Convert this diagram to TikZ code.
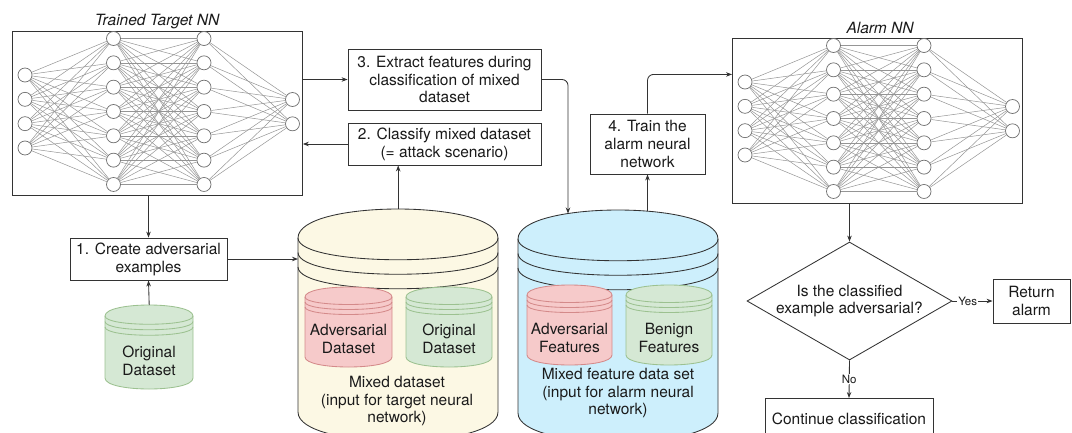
\documentclass[tikz,border=0pt]{standalone}
\usepackage{fontspec}
\setmainfont{TeX Gyre Heros}
\usetikzlibrary{arrows.meta,shapes.geometric}

\definecolor{ink}{HTML}{333333}
\definecolor{txt}{HTML}{1A1A1A}
\definecolor{wirec}{HTML}{959595}
\definecolor{cellline}{HTML}{6E6E6E}
\definecolor{mixfill}{HTML}{FCF8E4}
\definecolor{featfill}{HTML}{CDEFFC}
\definecolor{advfill}{HTML}{F6CACA}
\definecolor{advline}{HTML}{D48A8A}
\definecolor{benfill}{HTML}{D5E8D4}
\definecolor{benline}{HTML}{9CC190}

\tikzset{
  stepbox/.style={draw=ink, line width=0.85pt, fill=white, align=center, inner sep=2pt,
    text=txt, font=\fontsize{15.5}{17.8}\selectfont},
  frame/.style={draw=ink, line width=0.85pt, fill=white, inner sep=0pt},
  neuron/.style={circle, draw=cellline, line width=0.7pt, fill=white, minimum size=14pt, inner sep=0pt},
  wire/.style={draw=wirec, line width=0.5pt},
  arr/.style={draw=ink, line width=0.85pt, -{Stealth[length=6pt,width=4.5pt]}},
  lbl/.style={text=txt, align=center, font=\fontsize{15.5}{17.8}\selectfont, inner sep=0pt},
  title/.style={text=txt, font=\itshape\fontsize{15.5}{17.8}\selectfont, inner sep=0pt},
  small/.style={text=txt, font=\fontsize{11.5}{13}\selectfont, fill=white, inner sep=1pt},
}

% fully connected 4-7-7-2 network; #1 name prefix, (#2,#3) top-left corner of its frame
\newcommand\neuralnet[3]{%
  \foreach \i in {1,...,4} \node[neuron] (#1-a\i) at ({#2+13},{#3+44+24.33*(\i-1)}) {};
  \foreach \i in {1,...,7} {
    \node[neuron] (#1-b\i) at ({#2+101.5},{#3+7.5+24.33*(\i-1)}) {};
    \node[neuron] (#1-c\i) at ({#2+192},{#3+7.5+24.33*(\i-1)}) {};
  }
  \foreach \i in {1,2} \node[neuron] (#1-d\i) at ({#2+280.5},{#3+68.5+24.33*(\i-1)}) {};
  \foreach \i in {1,...,4} \foreach \j in {1,...,7} \draw[wire] (#1-a\i) -- (#1-b\j);
  \foreach \i in {1,...,7} \foreach \j in {1,...,7} \draw[wire] (#1-b\i) -- (#1-c\j);
  \foreach \i in {1,...,7} \foreach \j in {1,2} \draw[wire] (#1-c\i) -- (#1-d\j);
}

% data store cylinder: #1 name, (#2,#3) top-left, #4 width, #5 height, #6 rim depth, #7 fill, #8 stroke
\newcommand\dstore[8]{%
  \node[minimum width=#4pt, minimum height=#5pt, inner sep=0pt, anchor=north west] (#1) at (#2,#3) {};
  \path[fill=#7, draw=#8, line width=0.85pt]
    (#2,{#3+#6}) .. controls (#2,{#3-#6/3}) and ({#2+#4},{#3-#6/3}) .. ({#2+#4},{#3+#6})
    -- ({#2+#4},{#3+#5-#6}) .. controls ({#2+#4},{#3+#5+#6/3}) and (#2,{#3+#5+#6/3}) .. (#2,{#3+#5-#6})
    -- cycle;
  \foreach \k in {0,0.5,1}
    \draw[draw=#8, line width=0.85pt] (#2,{#3+#6+\k*#6}) .. controls (#2,{#3+2*#6+\k*#6})
      and ({#2+#4},{#3+2*#6+\k*#6}) .. ({#2+#4},{#3+#6+\k*#6});
}

\begin{document}
\begin{tikzpicture}[x=1pt, y=-1pt]
\useasboundingbox (0,0) rectangle (1072,432);
\clip (0,0) rectangle (1072,432);

% target network
\node[frame, minimum width=290pt, minimum height=164pt, anchor=north west] (tnn) at (12,31) {};
\node[title] (ttitle) at (157,22) {Trained Target NN};
\neuralnet{t}{12}{31}

% alarm network
\node[frame, minimum width=290pt, minimum height=165pt, anchor=north west] (alarm) at (732,38) {};
\node[title] (atitle) at (880,28) {Alarm NN};
\neuralnet{a}{732}{38}

% process steps
\node[stepbox, minimum width=157pt, minimum height=42pt] (box1) at (148.5,259) {1. Create adversarial\\examples};
\node[stepbox, minimum width=193pt, minimum height=42pt] (box2) at (444.5,144) {2. Classify mixed dataset\\(= attack scenario)};
\node[stepbox, minimum width=193pt, minimum height=61pt] (box3) at (444.5,79.5) {3. Extract features during\\classification of mixed\\dataset};
\node[stepbox, minimum width=115pt, minimum height=60pt] (box4) at (647.5,144) {4. Train the\\alarm neural\\network};

% data stores
\dstore{orig}{105}{305}{88}{84}{11}{benfill}{benline}
\node[lbl] (origtxt) at (149,361) {Original\\Dataset};

\dstore{mix}{298}{209}{200}{232}{29}{mixfill}{ink}
\dstore{advds}{305}{287}{87}{80}{10}{advfill}{advline}
\dstore{origds}{406}{287}{86}{80}{10}{benfill}{benline}
\node[lbl] (advdstxt) at (348.5,339) {Adversarial\\Dataset};
\node[lbl] (origdstxt) at (449,339) {Original\\Dataset};
\node[lbl] (mixtxt) at (397,401) {Mixed dataset\\(input for target neural\\network)};

\dstore{feat}{518}{210}{200}{232}{29}{featfill}{ink}
\dstore{advft}{527}{285}{85}{80}{10}{advfill}{advline}
\dstore{benft}{626}{285}{86}{80}{10}{benfill}{benline}
\node[lbl] (advfttxt) at (569.5,338) {Adversarial\\Features};
\node[lbl] (benfttxt) at (669,338) {Benign\\Features};
\node[lbl] (feattxt) at (618,393) {Mixed feature data set\\(input for alarm neural\\network)};

% decision
\node[diamond, draw=ink, line width=0.85pt, fill=white, minimum width=205pt, minimum height=118pt, inner sep=0pt] (dia) at (849.5,301) {};
\node[lbl] (diatxt) at (849.5,301) {Is the classified\\example adversarial?};
\node[stepbox, minimum width=77pt, minimum height=44pt] (ret) at (1031.5,301) {Return\\alarm};
\node[stepbox, minimum width=168pt, minimum height=40pt, anchor=north] (cont) at (849,398) {Continue classification};

% connector end points on the rims
\coordinate (featIn) at (568,213.5);
\coordinate (featOut) at (647.5,211);
\coordinate (alarmIn) at ([yshift=46.5pt]alarm.west);

% connectors
\draw[arr] (tnn.south -| box1.north) -- (box1.north);
\draw[arr] (orig.north) -- (box1.south);
\draw[arr] (box1.east) -- (box1.east -| mix.west);
\draw[arr] (mix.north) -- (mix.north |- box2.south);
\draw[arr] (box2.west) -- (box2.west -| tnn.east);
\draw[arr] (tnn.east |- box3.west) -- (box3.west);
\draw[arr, rounded corners=6pt] (box3.east) -| (featIn);
\draw[arr] (featOut) -- (box4.south);
\draw[arr, rounded corners=6pt] (box4.north) |- (alarmIn);
\draw[arr] (alarm.south -| dia.north) -- (dia.north);
\draw[arr] (dia.east) -- node[small, pos=0.38] {Yes} (ret.west);
\draw[arr] (dia.south) -- node[small] {No} (cont.north);
\end{tikzpicture}
\end{document}
